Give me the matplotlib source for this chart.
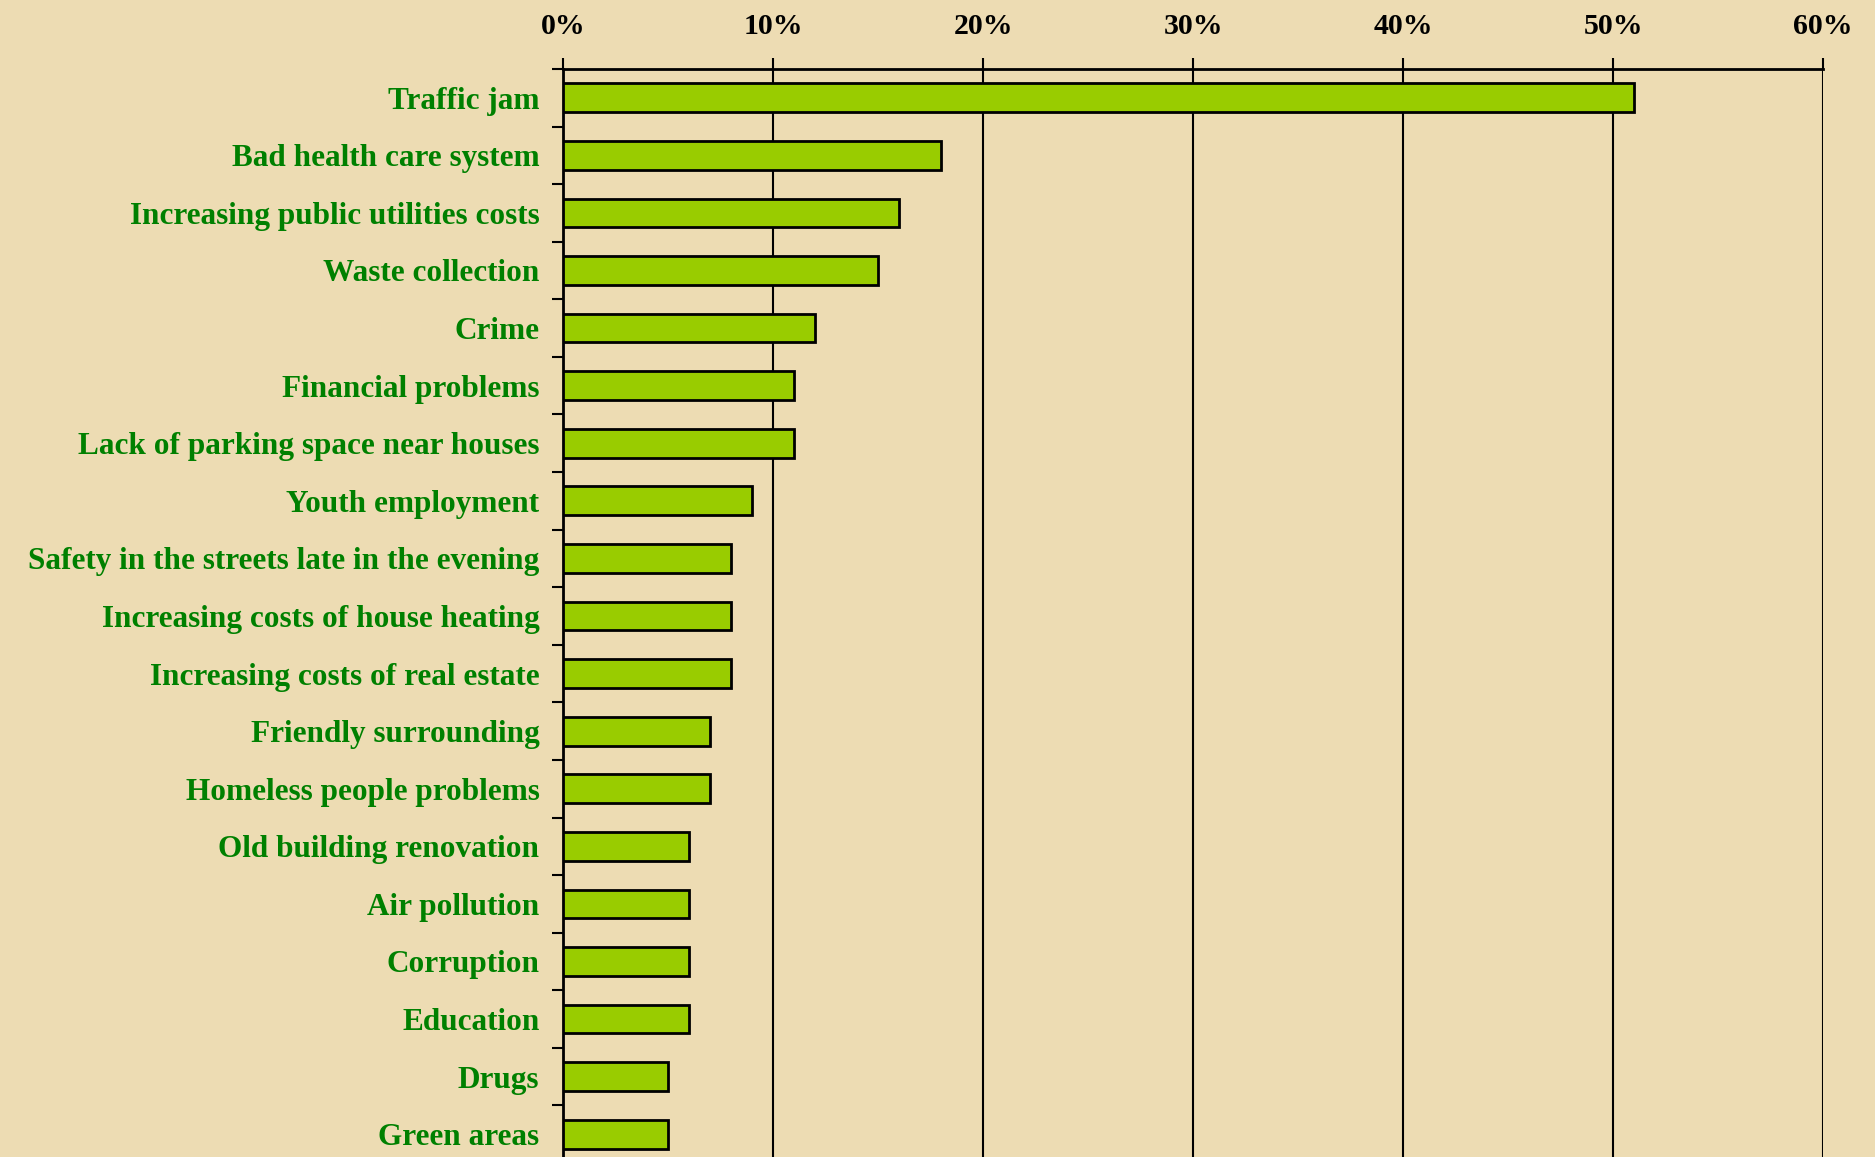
import matplotlib
matplotlib.use("Agg")
import matplotlib.pyplot as plt
import numpy as np

# survey answers, top to bottom
categories = [
    "Traffic jam",
    "Bad health care system",
    "Increasing public utilities costs",
    "Waste collection",
    "Crime",
    "Financial problems",
    "Lack of parking space near houses",
    "Youth employment",
    "Safety in the streets late in the evening",
    "Increasing costs of house heating",
    "Increasing costs of real estate",
    "Friendly surrounding",
    "Homeless people problems",
    "Old building renovation",
    "Air pollution",
    "Corruption",
    "Education",
    "Drugs",
    "Green areas",
]
values = [51, 18, 16, 15, 12, 11, 11, 9, 8, 8, 8, 7, 7, 6, 6, 6, 6, 5, 5]
xticks = [0, 10, 20, 30, 40, 50, 60]
xticklabels = ["0%", "10%", "20%", "30%", "40%", "50%", "60%"]

bg = "#eddcb3"
fig = plt.figure(figsize=(18.75, 11.57), dpi=100, facecolor=bg)
# axes runs a bit past the bottom edge, like the cropped original
ax = fig.add_axes([0.3003, -0.0052, 0.672, 0.9456])
ax.set_facecolor("none")

y = np.arange(len(categories))
ax.barh(y, values, height=0.5, color="#99cc00", edgecolor="black", linewidth=2, zorder=3)

ax.set_xlim(0, 60)
ax.set_ylim(len(categories) - 0.5, -0.5)

ax.xaxis.tick_top()
ax.set_xticks(xticks)
ax.set_xticklabels(xticklabels, fontfamily="Liberation Serif", fontweight="bold",
                   fontsize=21.5, color="black")
ax.tick_params(axis="x", direction="out", length=8, width=1.5, pad=13)
ax.grid(axis="x", color="black", linewidth=1.5, zorder=1)

ax.set_yticks(y)
ax.set_yticklabels(categories, fontfamily="Liberation Serif", fontweight="bold",
                   fontsize=22.5, color="#008000")
ax.set_yticks(np.arange(len(categories) + 1) - 0.5, minor=True)
ax.tick_params(axis="y", which="major", length=0, pad=17)
ax.tick_params(axis="y", which="minor", direction="out", length=8, width=1.5)

for s in ["right", "bottom"]:
    ax.spines[s].set_visible(False)
ax.spines["top"].set_linewidth(2)
ax.spines["left"].set_linewidth(2)

fig.savefig("out.png", dpi=100, facecolor=bg)
